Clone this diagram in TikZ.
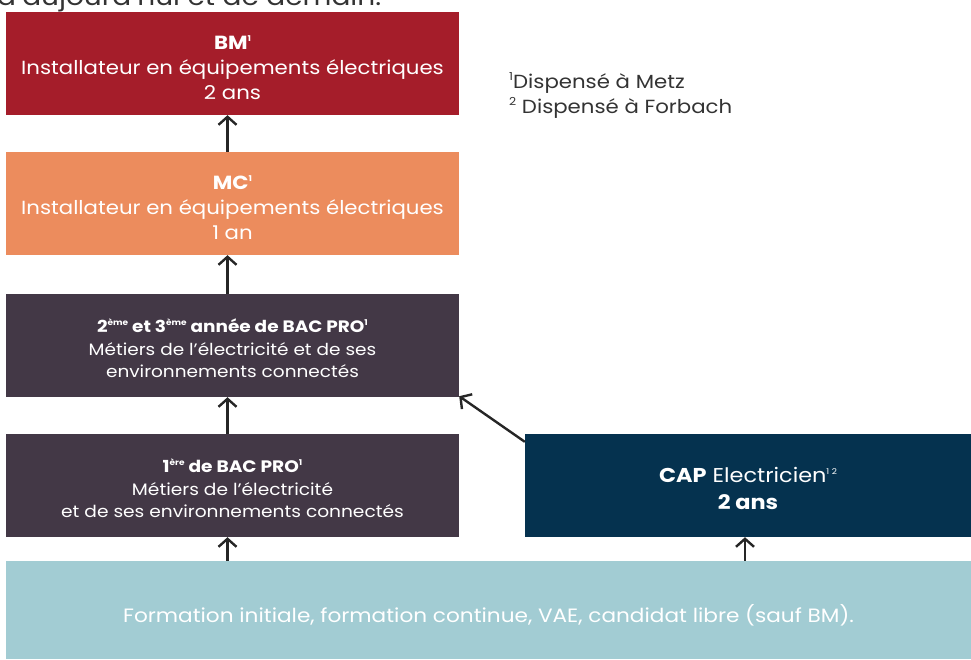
\documentclass[tikz,border=0pt]{standalone}
\usepackage{fontspec}
\setmainfont{Poppins}[FakeStretch=1.12]
\usetikzlibrary{arrows.meta}
\definecolor{bmred}{HTML}{A51D2A}
\definecolor{mcorange}{HTML}{EC8C5D}
\definecolor{plum}{HTML}{433846}
\definecolor{navy}{HTML}{05324F}
\definecolor{lightblue}{HTML}{A2CCD3}
\definecolor{txtgray}{HTML}{333333}
\newcommand\sups[1]{\raisebox{0.75ex}{\fontsize{8}{8}\selectfont #1}}
\newcommand\fsups[1]{\raisebox{0.7ex}{\fontsize{11}{11}\selectfont #1}}
\begin{document}
\begin{tikzpicture}[x=1pt,y=-1pt,
  box/.style={fill=#1, inner sep=0pt, minimum width=453pt, minimum height=103pt},
  boxtext/.style={text=white, inner sep=0pt, align=center},
  note/.style={anchor=base west, text=txtgray, inner sep=0pt, font=\fontsize{19}{19}\selectfont},
  arr/.style={-{Straight Barb[length=8pt,width=18pt,line width=2.4pt]}, line width=2.4pt, draw=black!85}]
\useasboundingbox (0,0) rectangle (971,659);
\begin{scope}
\clip (0,0) rectangle (971,659);
\node[anchor=base west, text=txtgray, inner sep=0pt, font=\fontsize{25}{25}\selectfont] (title) at (-3,5) {d’aujourd’hui et de demain.};
\end{scope}
% boxes
\node[box=bmred] (bm) at (232.5,63.5) {};
\node[box=mcorange] (mc) at (232.5,203.5) {};
\node[box=plum] (bac23) at (232.5,345.5) {};
\node[box=plum] (bac1) at (232.5,485.5) {};
\node[box=navy, minimum width=446pt] (cap) at (748,485.5) {};
\node[box=lightblue, minimum width=965pt, minimum height=98pt] (base) at (488.5,610) {};
% texts
\node[boxtext, font=\fontsize{19}{25}\selectfont] (bmt) at ([yshift=-4pt]bm.center) {{\bfseries BM\sups{1}}\\Installateur en équipements électriques\\2 ans};
\node[boxtext, font=\fontsize{19}{25}\selectfont] (mct) at ([yshift=-4.5pt]mc.center) {{\bfseries MC\sups{1}}\\Installateur en équipements électriques\\1 an};
\node[boxtext, font=\fontsize{16.5}{22.5}\selectfont] (bac23t) at ([yshift=-3pt]bac23.center) {{\bfseries 2\sups{ème} et 3\sups{ème} année de BAC PRO\sups{1}}\\Métiers de l’électricité et de ses\\environnements connectés};
\node[boxtext, font=\fontsize{16.6}{22.5}\selectfont] (bac1t) at ([yshift=-3pt]bac1.center) {{\bfseries 1\sups{ère} de BAC PRO\sups{1}}\\Métiers de l’électricité\\et de ses environnements connectés};
\node[boxtext, font=\fontsize{20}{27}\selectfont] (capt) at ([yshift=-3pt]cap.center) {{\bfseries CAP} Electricien\sups{1 2}\\{\bfseries 2 ans}};
\node[boxtext, font=\fontsize{19.3}{24}\selectfont] (baset) at ([yshift=-5pt]base.center) {Formation initiale, formation continue, VAE, candidat libre (sauf BM).};
\node[note] (fn1) at (509,88) {\fsups{1}Dispensé à Metz};
\node[note] (fn2) at (509,113) {\fsups{2} Dispensé à Forbach};
% connectors
\draw[arr] ([xshift=-5pt]mc.north) -- ([xshift=-5pt]bm.south);
\draw[arr] ([xshift=-5pt]bac23.north) -- ([xshift=-5pt]mc.south);
\draw[arr] ([xshift=-5pt]bac1.north) -- ([xshift=-5pt]bac23.south);
\draw[arr] ([xshift=-5pt]base.north -| bac1.south) -- ([xshift=-5pt]bac1.south);
\draw[arr] ([xshift=-3pt]base.north -| cap.south) -- ([xshift=-3pt]cap.south);
\draw[arr] ([yshift=-8pt]cap.north west) -- ([yshift=1pt]bac23.south east);
\end{tikzpicture}
\end{document}
